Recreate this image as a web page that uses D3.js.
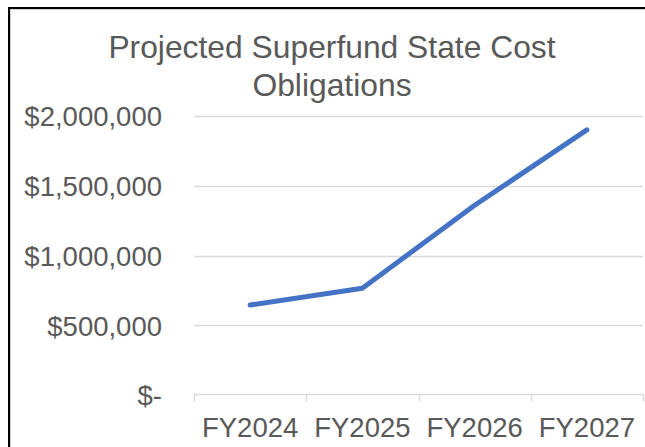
<!DOCTYPE html>
<html>
<head>
<meta charset="utf-8">
<script src="https://cdn.jsdelivr.net/npm/d3@7"></script>
<style>
  html, body { margin: 0; padding: 0; background: #fff; }
  svg { display: block; font-family: "Liberation Sans", Arial, sans-serif; }
</style>
</head>
<body>
<svg id="chart" width="645" height="447"></svg>
<script>
// Projected state cost obligations by fiscal year
const categories = ["FY2024", "FY2025", "FY2026", "FY2027"];
const obligations = [645000, 765000, 1360000, 1900000];
const yTicks = [0, 500000, 1000000, 1500000, 2000000];
const titleLines = ["Projected Superfund State Cost", "Obligations"];

const svg = d3.select("#chart");
const W = 645, H = 447;
const plot = { left: 194, right: 643, top: 116, bottom: 395 };
const textColor = "#595959";

// Chart frame (extends past the right and bottom edges)
svg.append("rect")
  .attr("x", 10.5).attr("y", 9.5)
  .attr("width", W + 20).attr("height", H + 20)
  .attr("fill", "none").attr("stroke", "#d0d0d0").attr("stroke-width", 1);
svg.append("rect")
  .attr("x", 9).attr("y", 8)
  .attr("width", W + 20).attr("height", H + 20)
  .attr("fill", "none").attr("stroke", "#000").attr("stroke-width", 2);

// Title
svg.append("text")
  .attr("x", 332).attr("text-anchor", "middle")
  .attr("fill", textColor).attr("font-size", 31.8)
  .selectAll("tspan").data(titleLines).join("tspan")
  .attr("x", 332)
  .attr("y", (d, i) => 57.5 + i * 38.5)
  .text(d => d);

const x = d3.scaleBand().domain(categories).range([plot.left, plot.right]);
const y = d3.scaleLinear().domain([0, 2000000]).range([plot.bottom, plot.top]);

const fmt = v => v === 0 ? "$-" : "$" + d3.format(",")(v);

// Horizontal gridlines
svg.append("g")
  .selectAll("line").data(yTicks.filter(v => v > 0)).join("line")
  .attr("x1", plot.left).attr("x2", plot.right)
  .attr("y1", d => Math.round(y(d)) + 0.5).attr("y2", d => Math.round(y(d)) + 0.5)
  .attr("stroke", "#d9d9d9").attr("stroke-width", 1.5);

// Y axis labels
const yAxis = d3.axisLeft(y).tickValues(yTicks).tickFormat(fmt).tickSize(0).tickPadding(0);
const gy = svg.append("g").attr("transform", "translate(162,0)").call(yAxis);
gy.select(".domain").remove();
gy.selectAll("text")
  .attr("fill", textColor).attr("font-size", 27.5)
  .attr("font-family", "'Liberation Sans', Arial, sans-serif")
  .attr("dy", "0.36em");

// X axis with category boundary ticks
const gx = svg.append("g").attr("transform", `translate(0,${plot.bottom - 0.5})`);
gx.append("line")
  .attr("x1", plot.left).attr("x2", plot.right)
  .attr("stroke", "#d9d9d9").attr("stroke-width", 1.5);
const bounds = categories.map(c => x(c)).concat([x(categories[categories.length - 1]) + x.bandwidth()]);
gx.selectAll("line.tick").data(bounds).join("line")
  .attr("class", "tick")
  .attr("x1", d => Math.round(d) + 0.5).attr("x2", d => Math.round(d) + 0.5)
  .attr("y1", 0).attr("y2", 7)
  .attr("stroke", "#d9d9d9").attr("stroke-width", 1.5);
const xAxis = d3.axisBottom(x).tickSize(0).tickPadding(0);
const gxl = svg.append("g").attr("transform", "translate(0,437)").call(xAxis);
gxl.select(".domain").remove();
gxl.selectAll("text")
  .attr("fill", textColor).attr("font-size", 27.5)
  .attr("font-family", "'Liberation Sans', Arial, sans-serif")
  .attr("y", 0).attr("dy", 0);

// Series line
const line = d3.line()
  .x((d, i) => x(categories[i]) + x.bandwidth() / 2)
  .y(d => y(d));
svg.append("path")
  .datum(obligations)
  .attr("d", line)
  .attr("fill", "none")
  .attr("stroke", "#4472C4")
  .attr("stroke-width", 5)
  .attr("stroke-linecap", "round")
  .attr("stroke-linejoin", "round");
</script>
</body>
</html>
